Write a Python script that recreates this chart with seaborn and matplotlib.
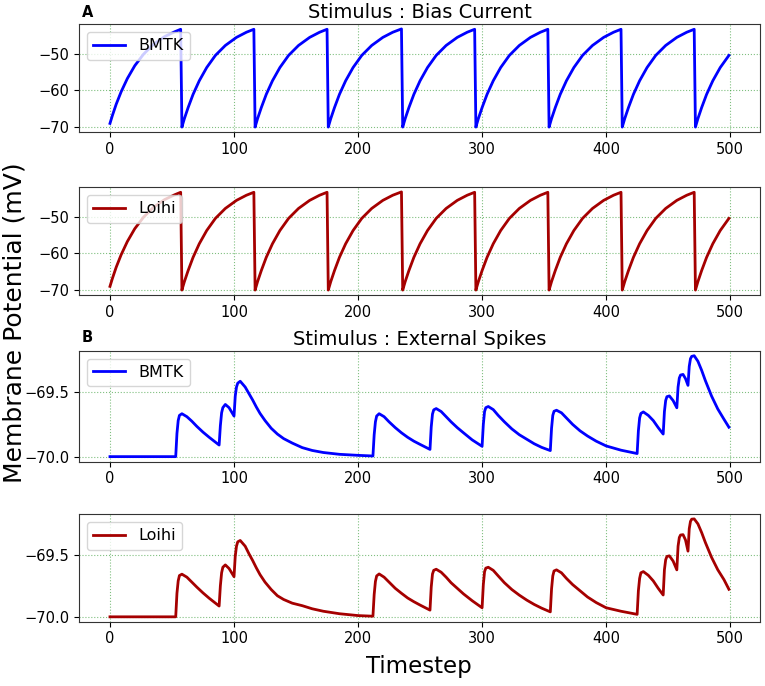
import matplotlib
matplotlib.use('Agg')
import matplotlib.pyplot as plt
import seaborn as sns

# --- data (timestep, membrane potential in mV) ---
# A: bias current, reset to -70 after every spike
bias_t = [0, 2, 5, 9, 14, 20, 27, 35, 44, 52, 57,
          58, 60, 63, 67, 72, 78, 85, 93, 102, 110, 116,
          117, 119, 122, 126, 131, 137, 144, 152, 161, 169, 175,
          176, 178, 181, 185, 190, 196, 203, 211, 220, 228, 235,
          236, 238, 241, 245, 250, 256, 263, 271, 280, 288, 294,
          295, 297, 300, 304, 309, 315, 322, 330, 339, 347, 353,
          354, 356, 359, 363, 368, 374, 381, 389, 398, 406, 412,
          413, 415, 418, 422, 427, 433, 440, 448, 457, 465, 471,
          472, 474, 477, 481, 486, 492, 499]
bmtk_bias_v = [-69.0, -66.8, -63.8, -60.4, -56.8, -53.3, -50.2, -47.5, -45.4, -44.1, -43.4,
               -70.0, -67.7, -64.7, -61.1, -57.4, -53.8, -50.5, -47.8, -45.6, -44.2, -43.4,
               -70.0, -67.7, -64.7, -61.1, -57.4, -53.8, -50.5, -47.8, -45.6, -44.2, -43.4,
               -70.0, -67.7, -64.7, -61.1, -57.4, -53.8, -50.5, -47.8, -45.6, -44.2, -43.3,
               -70.0, -67.7, -64.7, -61.1, -57.4, -53.8, -50.5, -47.8, -45.6, -44.2, -43.4,
               -70.0, -67.7, -64.7, -61.1, -57.4, -53.8, -50.5, -47.8, -45.6, -44.2, -43.4,
               -70.0, -67.7, -64.7, -61.1, -57.4, -53.8, -50.5, -47.8, -45.6, -44.2, -43.4,
               -70.0, -67.7, -64.7, -61.1, -57.4, -53.8, -50.5, -47.8, -45.6, -44.2, -43.4,
               -70.0, -67.7, -64.7, -61.1, -57.4, -53.8, -50.5]
loihi_bias_v = [-69.0, -66.8, -63.8, -60.4, -56.8, -53.3, -50.2, -47.5, -45.4, -44.1, -43.4,
                -70.0, -67.7, -64.7, -61.1, -57.4, -53.8, -50.5, -47.8, -45.6, -44.2, -43.4,
                -70.0, -67.7, -64.7, -61.1, -57.4, -53.8, -50.5, -47.8, -45.6, -44.2, -43.4,
                -70.0, -67.7, -64.7, -61.1, -57.4, -53.8, -50.5, -47.8, -45.6, -44.2, -43.3,
                -70.0, -67.7, -64.7, -61.1, -57.4, -53.8, -50.5, -47.8, -45.6, -44.2, -43.4,
                -70.0, -67.7, -64.7, -61.1, -57.4, -53.8, -50.5, -47.8, -45.6, -44.2, -43.4,
                -70.0, -67.7, -64.7, -61.1, -57.4, -53.8, -50.5, -47.8, -45.6, -44.2, -43.4,
                -70.0, -67.7, -64.7, -61.1, -57.4, -53.8, -50.5, -47.8, -45.6, -44.2, -43.4,
                -70.0, -67.7, -64.7, -61.1, -57.4, -53.8, -50.5]

# B: external spikes (PSPs)
spk_t = [0, 53, 54, 55, 56, 58, 62, 66, 70, 75, 80, 88,
         89, 90, 91, 93, 96, 100,
         101, 102, 103, 105, 109, 112, 115, 118, 121, 125, 130, 135, 140, 147, 155, 163, 172, 185, 200, 212,
         213, 214, 215, 217, 221, 225, 230, 235, 240, 245, 250, 258,
         259, 260, 261, 263, 267, 271, 275, 280, 285, 292, 300,
         301, 302, 303, 305, 309, 313, 318, 324, 330, 336, 342, 348, 355,
         356, 357, 358, 360, 364, 368, 373, 379, 385, 392, 400, 412, 425,
         426, 427, 428, 430, 434, 438, 442, 446,
         447, 448, 449, 451, 454, 457,
         458, 459, 460, 462, 464, 466,
         467, 468, 469, 471, 474, 477, 480, 485, 490, 495, 499]
bmtk_spk_v = [-70.0, -70.0, -69.82, -69.72, -69.68, -69.667, -69.69, -69.725, -69.765, -69.81, -69.85, -69.91,
              -69.76, -69.66, -69.62, -69.595, -69.62, -69.685,
              -69.53, -69.46, -69.43, -69.415, -69.46, -69.51, -69.56, -69.615, -69.665, -69.72, -69.78,
              -69.825, -69.86, -69.895, -69.93, -69.952, -69.968, -69.982, -69.99, -69.995,
              -69.83, -69.73, -69.685, -69.667, -69.69, -69.73, -69.775, -69.815, -69.85, -69.88, -69.905, -69.944,
              -69.77, -69.67, -69.637, -69.627, -69.65, -69.69, -69.73, -69.775, -69.815, -69.87, -69.92,
              -69.75, -69.65, -69.62, -69.611, -69.635, -69.68, -69.73, -69.785, -69.83, -69.865, -69.9,
              -69.928, -69.953,
              -69.78, -69.68, -69.648, -69.64, -69.66, -69.7, -69.75, -69.8, -69.84, -69.88, -69.917,
              -69.95, -69.976,
              -69.80, -69.70, -69.665, -69.653, -69.68, -69.72, -69.775, -69.825,
              -69.65, -69.565, -69.535, -69.529, -69.565, -69.621,
              -69.46, -69.39, -69.367, -69.362, -69.395, -69.447,
              -69.30, -69.24, -69.222, -69.217, -69.26, -69.33, -69.41, -69.53, -69.63, -69.71, -69.772]
loihi_spk_v = [-70.0, -70.0, -69.81, -69.71, -69.667, -69.656, -69.68, -69.72, -69.76, -69.807, -69.85, -69.913,
               -69.75, -69.645, -69.6, -69.581, -69.61, -69.676,
               -69.51, -69.43, -69.395, -69.384, -69.43, -69.49, -69.545, -69.605, -69.66, -69.72, -69.78,
               -69.83, -69.86, -69.89, -69.91, -69.935, -69.955, -69.975, -69.99, -69.995,
               -69.82, -69.715, -69.67, -69.654, -69.68, -69.72, -69.77, -69.81, -69.848, -69.878, -69.905, -69.946,
               -69.76, -69.655, -69.625, -69.616, -69.64, -69.68, -69.725, -69.77, -69.815, -69.87, -69.927,
               -69.74, -69.635, -69.607, -69.6, -69.625, -69.67, -69.725, -69.78, -69.825, -69.865, -69.9,
               -69.93, -69.96,
               -69.775, -69.67, -69.63, -69.621, -69.645, -69.69, -69.74, -69.79, -69.84, -69.885, -69.927,
               -69.955, -69.98,
               -69.79, -69.69, -69.645, -69.635, -69.665, -69.71, -69.77, -69.824,
               -69.62, -69.54, -69.513, -69.508, -69.55, -69.621,
               -69.43, -69.36, -69.34, -69.337, -69.38, -69.47,
               -69.29, -69.23, -69.212, -69.21, -69.25, -69.32, -69.40, -69.52, -69.62, -69.70, -69.778]

bias_ticks = [-70, -60, -50]
spk_ticks = [-70.0, -69.5]

BLUE = '#0000ff'
RED = '#a50000'

fig = plt.figure(figsize=(7.65, 6.86), dpi=100)
# axes boxes in figure fractions [left, bottom, width, height]
boxes = [[0.1033, 0.8076, 0.890, 0.1574],
         [0.1033, 0.5700, 0.890, 0.1574],
         [0.1033, 0.3270, 0.890, 0.1618],
         [0.1033, 0.0937, 0.890, 0.1570]]
panels = [(bias_t, bmtk_bias_v, BLUE, 'BMTK', bias_ticks),
          (bias_t, loihi_bias_v, RED, 'Loihi', bias_ticks),
          (spk_t, bmtk_spk_v, BLUE, 'BMTK', spk_ticks),
          (spk_t, loihi_spk_v, RED, 'Loihi', spk_ticks)]

axes = []
for box, (t, v, col, lab, yt) in zip(boxes, panels):
    ax = fig.add_axes(box)
    sns.lineplot(x=t, y=v, ax=ax, color=col, linewidth=2, label=lab, errorbar=None)
    ax.set_yticks(yt)
    if yt == spk_ticks:
        ax.set_yticklabels(['\u221270.0', '\u221269.5'])
    ax.set_xticks([0, 100, 200, 300, 400, 500])
    ax.tick_params(labelsize=10.5)
    ax.grid(True, color='g', linestyle=':', linewidth=0.8, alpha=0.5)
    ax.legend(loc='upper left', fontsize=11.5)
    for s in ax.spines.values():
        s.set_color('#333333')
    axes.append(ax)

axes[0].set_title('Stimulus : Bias Current', fontsize=14, pad=4)
axes[2].set_title('Stimulus : External Spikes', fontsize=14, pad=4)
fig.text(0.107, 1 - 17 / 686, 'A', fontsize=10.5, fontweight='bold')
fig.text(0.107, 1 - 342 / 686, 'B', fontsize=10.5, fontweight='bold')
fig.text(0.0195, 0.53, 'Membrane Potential (mV)', rotation=90, fontsize=18,
         ha='center', va='center')
fig.text(0.548, 0.028, 'Timestep', fontsize=16.5, ha='center', va='center')

fig.savefig('out.png', dpi=100)
